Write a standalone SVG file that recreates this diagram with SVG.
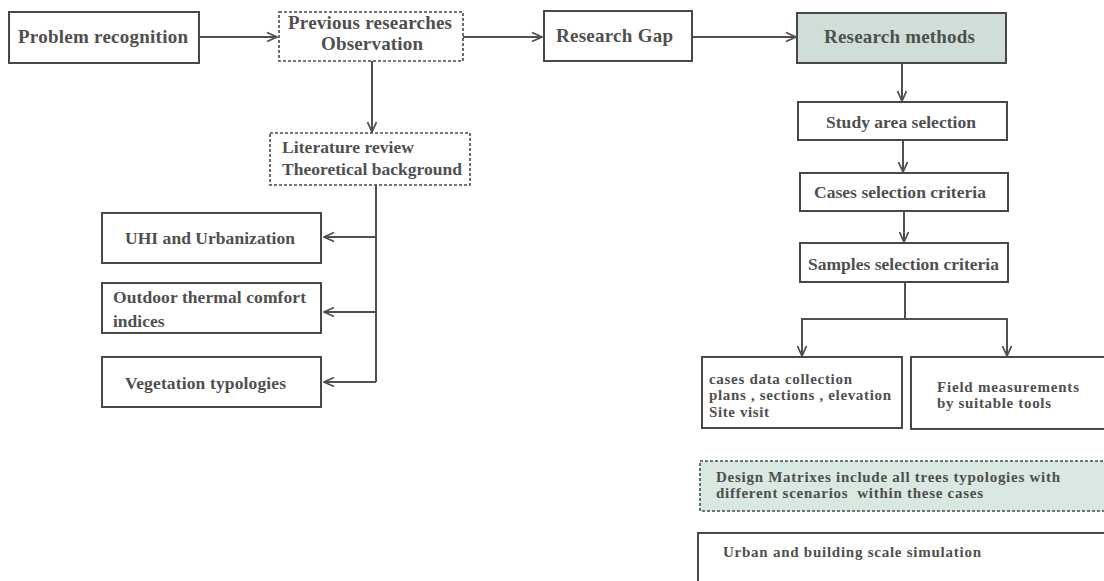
<svg xmlns="http://www.w3.org/2000/svg" width="1104" height="581" viewBox="0 0 1104 581">
<style>
.box{fill:#fff;stroke:#484848;stroke-width:2}
.dash{fill:#fff;stroke:#484848;stroke-width:1.6;stroke-dasharray:3 2}
.green{fill:#cfdfd7}
.lgreen{fill:#d9e8e1}
text{font-family:"Liberation Serif","Times New Roman",serif;font-weight:bold;fill:#4f4f4f}
.t18{font-size:19px}
.t16{font-size:17.5px}
.t15{font-size:15px}
.c{text-anchor:middle}
.con{fill:none;stroke:#505050;stroke-width:2}
</style>
<defs>
<marker id="arr" viewBox="0 0 12 12" refX="11" refY="6" markerWidth="12" markerHeight="12" markerUnits="userSpaceOnUse" orient="auto">
<path d="M1,1.5 L11,6 L1,10.5" fill="none" stroke="#505050" stroke-width="1.8"/>
</marker>
</defs>
<rect width="1104" height="581" fill="#fff"/>
<g id="connectors">
<path class="con" d="M199,37 H277" marker-end="url(#arr)"/>
<path class="con" d="M463,37 H542" marker-end="url(#arr)"/>
<path class="con" d="M692,37 H796" marker-end="url(#arr)"/>
<path class="con" d="M372,61 V132" marker-end="url(#arr)"/>
<path class="con" d="M376,185 V382"/>
<path class="con" d="M376,237 H324" marker-end="url(#arr)"/>
<path class="con" d="M376,312 H324" marker-end="url(#arr)"/>
<path class="con" d="M376,382 H324" marker-end="url(#arr)"/>
<path class="con" d="M902,63 V101" marker-end="url(#arr)"/>
<path class="con" d="M903,140 V172" marker-end="url(#arr)"/>
<path class="con" d="M904,211 V242" marker-end="url(#arr)"/>
<path class="con" d="M905,282 V319 M802,319 H1007"/>
<path class="con" d="M802,318 V356" marker-end="url(#arr)"/>
<path class="con" d="M1007,318 V356" marker-end="url(#arr)"/>
</g>
<g id="problem">
<rect class="box" x="9" y="12" width="190" height="51"/>
<text class="t18 c" x="103" y="43" textLength="170" lengthAdjust="spacing">Problem recognition</text>
</g>
<g id="previous">
<rect class="dash" x="279" y="12" width="184" height="49"/>
<text class="t18 c" x="370" y="29" textLength="164" lengthAdjust="spacing">Previous researches</text>
<text class="t18 c" x="372" y="50" textLength="102" lengthAdjust="spacing">Observation</text>
</g>
<g id="gap">
<rect class="box" x="544" y="11" width="148" height="50"/>
<text class="t18 c" x="614.5" y="42" textLength="117" lengthAdjust="spacing">Research Gap</text>
</g>
<g id="methods">
<rect class="box green" x="797" y="13" width="209" height="50"/>
<text class="t18 c" x="899.5" y="43" textLength="151" lengthAdjust="spacing">Research methods</text>
</g>
<g id="literature">
<rect class="dash" x="270" y="133" width="200" height="52"/>
<text class="t16" x="282" y="153" textLength="132" lengthAdjust="spacing">Literature review</text>
<text class="t16" x="282" y="175" textLength="180" lengthAdjust="spacing">Theoretical background</text>
</g>
<g id="uhi">
<rect class="box" x="102" y="213" width="219" height="50"/>
<text class="t16 c" x="210" y="244" textLength="170" lengthAdjust="spacing">UHI and Urbanization</text>
</g>
<g id="outdoor">
<rect class="box" x="102" y="283" width="219" height="50"/>
<text class="t16" x="113" y="303" textLength="193" lengthAdjust="spacing">Outdoor thermal comfort</text>
<text class="t16" x="113" y="327">indices</text>
</g>
<g id="vegetation">
<rect class="box" x="102" y="357" width="219" height="50"/>
<text class="t16 c" x="205.5" y="389" textLength="161" lengthAdjust="spacing">Vegetation typologies</text>
</g>
<g id="study">
<rect class="box" x="798" y="102" width="209" height="38"/>
<text class="t16 c" x="901" y="128" textLength="150" lengthAdjust="spacing">Study area selection</text>
</g>
<g id="cases">
<rect class="box" x="800" y="173" width="208" height="38"/>
<text class="t16 c" x="900" y="198" textLength="172" lengthAdjust="spacing">Cases selection criteria</text>
</g>
<g id="samples">
<rect class="box" x="800" y="243" width="208" height="39"/>
<text class="t16 c" x="903.5" y="270" textLength="191" lengthAdjust="spacing">Samples selection criteria</text>
</g>
<g id="datacollection">
<rect class="box" x="702" y="357" width="200" height="71"/>
<text class="t15" x="709" y="383.5" textLength="143" lengthAdjust="spacing">cases data collection</text>
<text class="t15" x="709" y="399.5" textLength="182" lengthAdjust="spacing">plans , sections , elevation</text>
<text class="t15" x="709" y="416.5" textLength="60" lengthAdjust="spacing">Site visit</text>
</g>
<g id="field">
<rect class="box" x="911" y="357" width="200" height="72"/>
<text class="t15" x="937" y="391.5" textLength="142" lengthAdjust="spacing">Field measurements</text>
<text class="t15" x="937" y="407.5" textLength="114" lengthAdjust="spacing">by suitable tools</text>
</g>
<g id="design">
<rect class="dash lgreen" x="700" y="461" width="410" height="50"/>
<text class="t15" x="716" y="481.5" textLength="344" lengthAdjust="spacing">Design Matrixes include all trees typologies with</text>
<text class="t15" x="716" y="497.5" textLength="267" lengthAdjust="spacing" xml:space="preserve">different scenarios  within these cases</text>
</g>
<g id="simulation">
<rect class="box" x="698" y="533" width="412" height="60"/>
<text class="t15" x="723" y="556.5" textLength="258" lengthAdjust="spacing">Urban and building scale simulation</text>
</g>
</svg>
